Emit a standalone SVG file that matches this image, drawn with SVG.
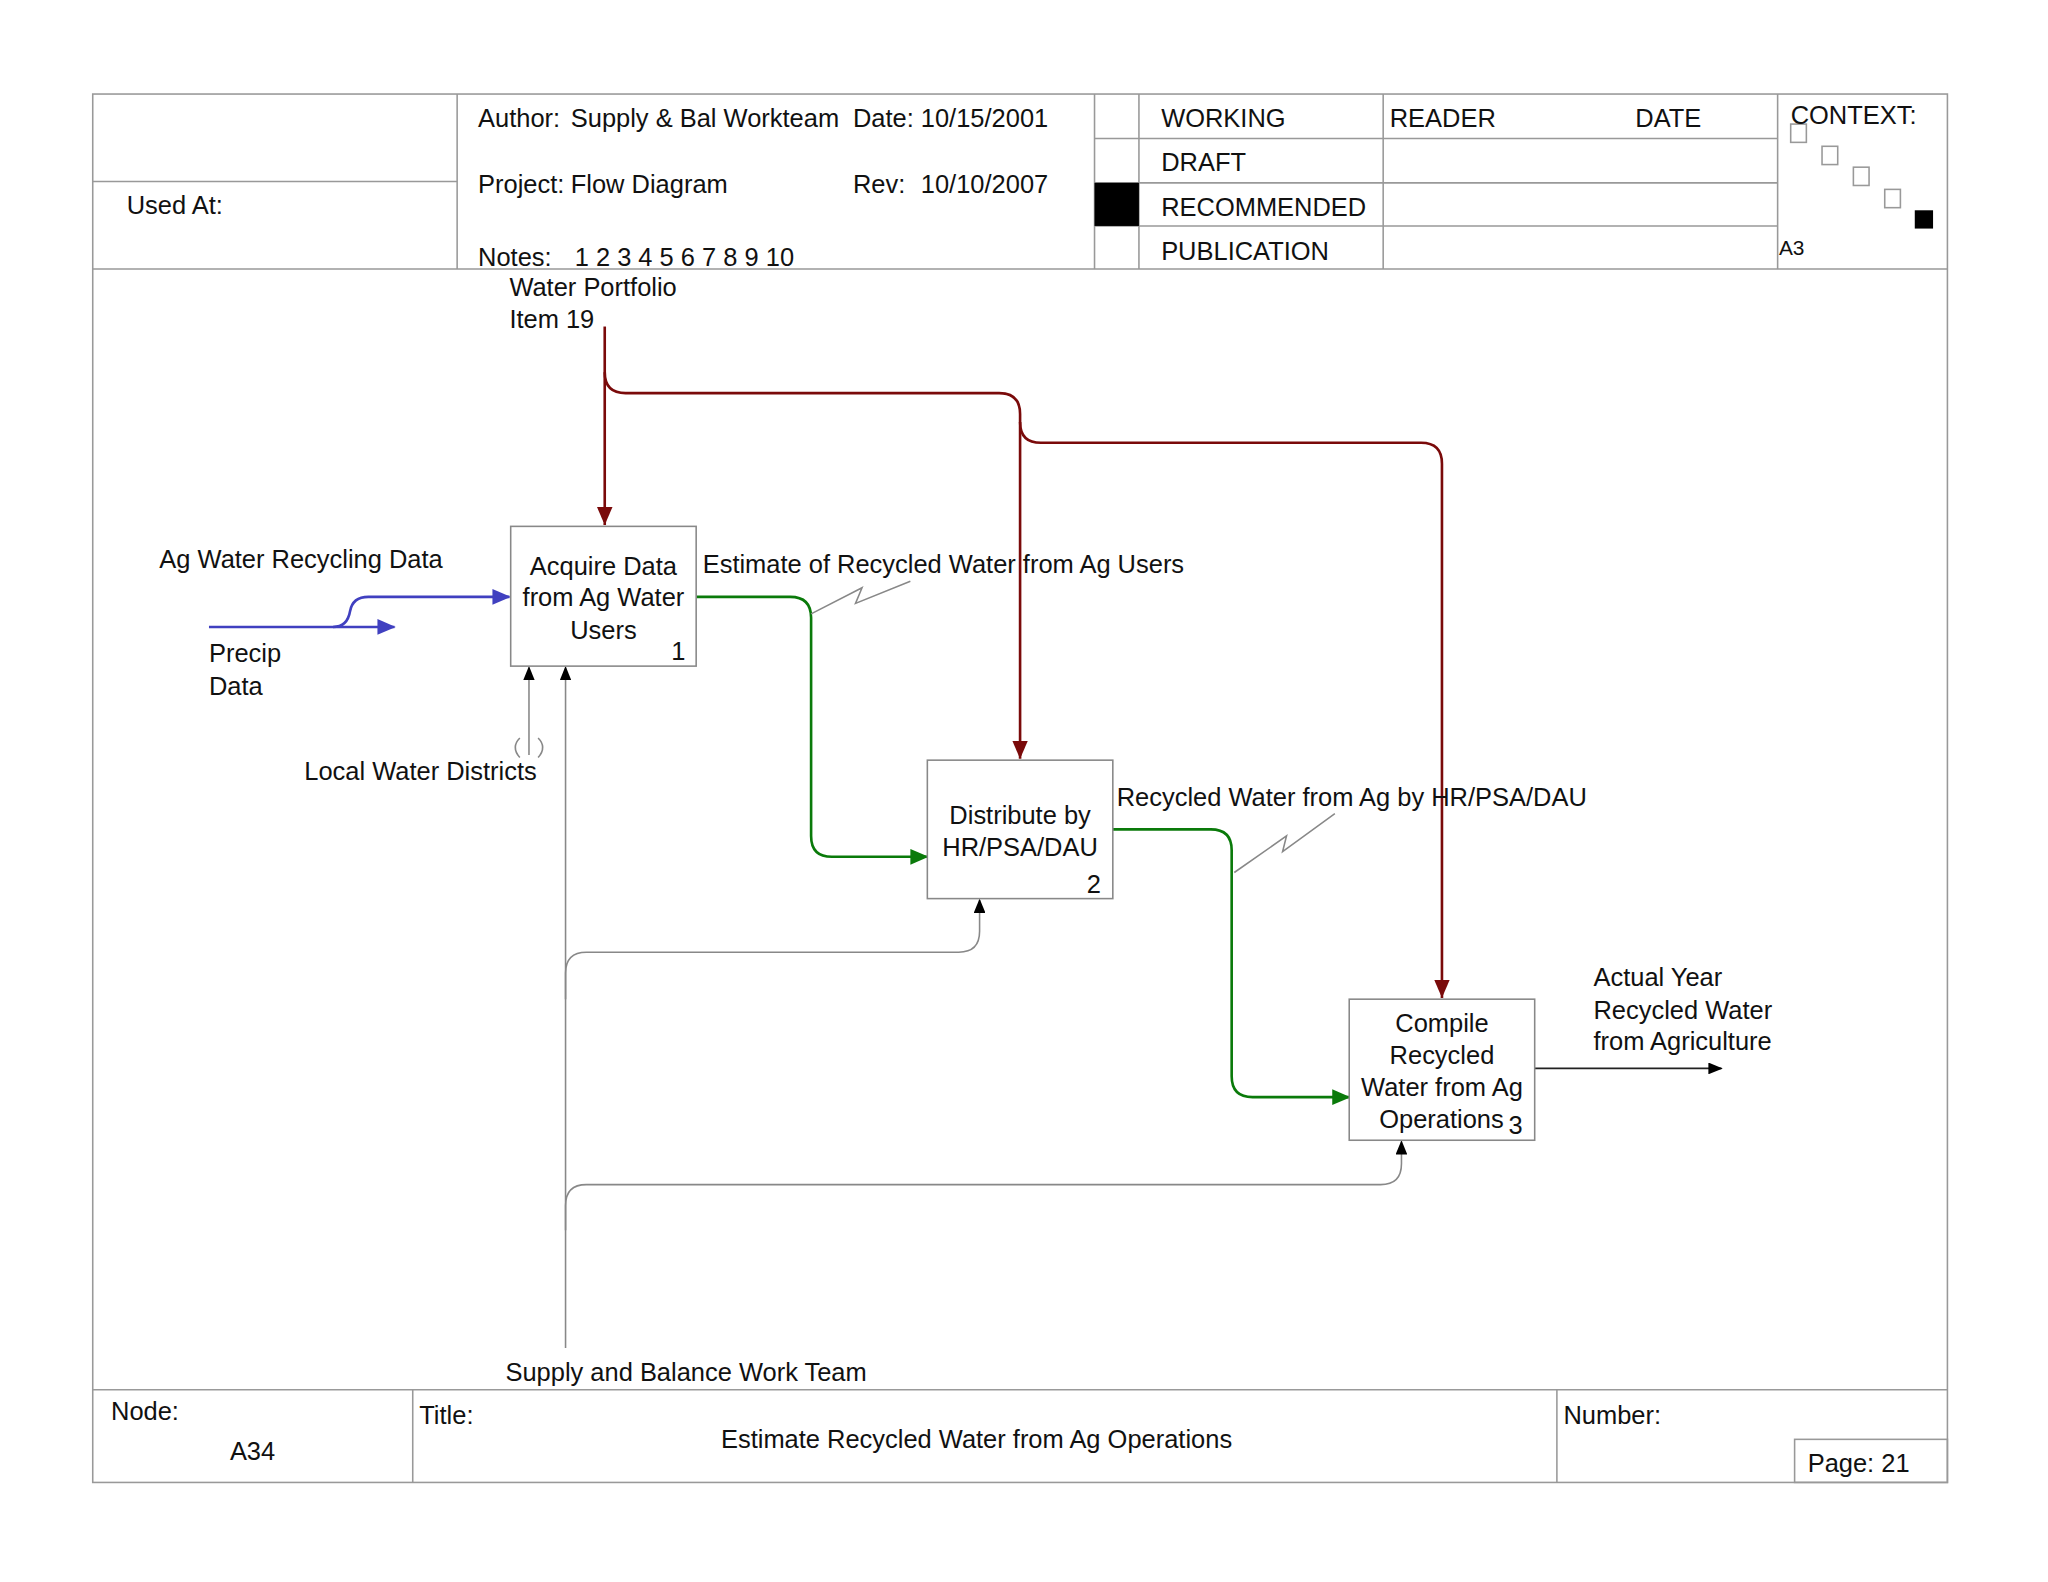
<svg xmlns="http://www.w3.org/2000/svg" width="2048" height="1582" viewBox="0 0 2048 1582">
<style>
text{font-family:"Liberation Sans",Arial,sans-serif;font-size:19.5px;fill:#111}
.fr{fill:none;stroke:#999;stroke-width:1.2}
.box{fill:#fff;stroke:#888;stroke-width:1.2}
.r{fill:none;stroke:#7a0a0a;stroke-width:2}
.b{fill:none;stroke:#4040c0;stroke-width:2}
.g{fill:none;stroke:#0a7a0a;stroke-width:2}
.k{fill:none;stroke:#888;stroke-width:1.2}
.bl{fill:none;stroke:#222;stroke-width:1.2}
</style>
<defs>
<marker id="ar" markerWidth="12" markerHeight="14" refX="14" refY="6" orient="auto" markerUnits="userSpaceOnUse"><path d="M0,0L14,6L0,12z" fill="#7a0a0a"/></marker>
<marker id="ab" markerWidth="14" markerHeight="12" refX="13" refY="6" orient="auto" markerUnits="userSpaceOnUse"><path d="M0,0L14,6L0,12z" fill="#4040c0"/></marker>
<marker id="ag" markerWidth="14" markerHeight="12" refX="13" refY="6" orient="auto" markerUnits="userSpaceOnUse"><path d="M0,0L14,6L0,12z" fill="#0a7a0a"/></marker>
<marker id="ak" markerWidth="11" markerHeight="9" refX="10" refY="4.5" orient="auto" markerUnits="userSpaceOnUse"><path d="M0,0L11,4.5L0,9z" fill="#000"/></marker>
</defs>
<rect width="2048" height="1582" fill="#fff"/>
<g transform="scale(1.30612)">
<g id="frame">
<rect class="fr" x="71" y="72" width="1420" height="1063"/>
<line class="fr" x1="71" y1="206" x2="1491" y2="206"/>
<line class="fr" x1="71" y1="139" x2="350" y2="139"/>
<line class="fr" x1="350" y1="72" x2="350" y2="206"/>
<line class="fr" x1="838" y1="72" x2="838" y2="206"/>
<line class="fr" x1="872" y1="72" x2="872" y2="206"/>
<line class="fr" x1="1059" y1="72" x2="1059" y2="206"/>
<line class="fr" x1="1361" y1="72" x2="1361" y2="206"/>
<line class="fr" x1="838" y1="106" x2="1361" y2="106"/>
<line class="fr" x1="838" y1="140" x2="1361" y2="140"/>
<line class="fr" x1="838" y1="173" x2="1361" y2="173"/>
<rect x="838" y="140" width="34" height="33" fill="#000"/>
<rect class="fr" x="1371" y="95" width="12" height="14"/>
<rect class="fr" x="1395" y="112" width="12" height="14"/>
<rect class="fr" x="1419" y="128" width="12" height="14"/>
<rect class="fr" x="1443" y="145" width="12" height="14"/>
<rect x="1466" y="161" width="14" height="14" fill="#000"/>
<text x="97" y="164">Used At:</text>
<text x="366" y="97">Author:</text><text x="437" y="97">Supply &amp; Bal Workteam</text>
<text x="653" y="97">Date: 10/15/2001</text>
<text x="366" y="148">Project:</text><text x="437" y="148">Flow Diagram</text>
<text x="653" y="148">Rev:</text><text x="705" y="148">10/10/2007</text>
<text x="366" y="204">Notes:</text><text x="440" y="204">1 2 3 4 5 6 7 8 9 10</text>
<text x="889" y="97">WORKING</text><text x="889" y="131">DRAFT</text>
<text x="889" y="165">RECOMMENDED</text><text x="889" y="199">PUBLICATION</text>
<text x="1064" y="97">READER</text><text x="1252" y="97">DATE</text>
<text x="1371" y="95">CONTEXT:</text>
<text x="1362" y="195" style="font-size:16px">A3</text>
<line class="fr" x1="71" y1="1064" x2="1491" y2="1064"/>
<line class="fr" x1="316" y1="1064" x2="316" y2="1135"/>
<line class="fr" x1="1192" y1="1064" x2="1192" y2="1135"/>
<rect class="fr" x="1374" y="1102" width="117" height="33"/>
<text x="85" y="1087">Node:</text><text x="176" y="1118">A34</text>
<text x="321" y="1090">Title:</text>
<text x="552" y="1109">Estimate Recycled Water from Ag Operations</text>
<text x="1197" y="1090">Number:</text>
<text x="1384" y="1127">Page:  21</text>
</g>
<g id="connectors">
<path class="r" d="M463,250V402" marker-end="url(#ar)"/>
<path class="r" d="M463,285Q463,301 479,301H765Q781,301 781,317V581" marker-end="url(#ar)"/>
<path class="r" d="M781,323Q781,339 797,339H1088Q1104,339 1104,355V764" marker-end="url(#ar)"/>
<path class="b" d="M160,480H302" marker-end="url(#ab)"/>
<path class="b" d="M255,480Q266,480 268,468Q270,457 282,457H390" marker-end="url(#ab)"/>
<path class="g" d="M533,457H605Q621,457 621,473V640Q621,656 637,656H710" marker-end="url(#ag)"/>
<path class="g" d="M852,635H927Q943,635 943,651V824Q943,840 959,840H1033" marker-end="url(#ag)"/>
<path class="bl" d="M1175,818H1318" marker-end="url(#ak)"/>
<path class="k" d="M433,1032V511" marker-end="url(#ak)"/>
<path class="k" d="M405,578V511" marker-end="url(#ak)"/>
<path class="k" d="M398,565Q391,572 398,580M412,565Q419,572 412,580"/>
<path class="k" d="M433,765V745Q433,729 449,729H734Q750,729 750,713V689" marker-end="url(#ak)"/>
<path class="k" d="M433,942V923Q433,907 449,907H1057Q1073,907 1073,891V874" marker-end="url(#ak)"/>
<path class="k" d="M621,470L660,450L655,462L697,445"/>
<path class="k" d="M945,668L985,640L982,652L1022,623"/>
</g>
<g id="n1"><rect class="box" x="391" y="403" width="142" height="107"/>
<text x="462" y="440" text-anchor="middle">Acquire Data</text><text x="462" y="464" text-anchor="middle">from Ag Water</text><text x="462" y="489" text-anchor="middle">Users</text><text x="514" y="505">1</text></g>
<g id="n2"><rect class="box" x="710" y="582" width="142" height="106"/>
<text x="781" y="631" text-anchor="middle">Distribute by</text><text x="781" y="655" text-anchor="middle">HR/PSA/DAU</text><text x="832" y="684">2</text></g>
<g id="n3"><rect class="box" x="1033" y="765" width="142" height="108"/>
<text x="1104" y="790" text-anchor="middle">Compile</text><text x="1104" y="815" text-anchor="middle">Recycled</text><text x="1104" y="839" text-anchor="middle">Water from Ag</text><text x="1056" y="864">Operations</text><text x="1155" y="868">3</text></g>
<g id="labels">
<text x="390" y="227">Water Portfolio</text><text x="390" y="251">Item 19</text>
<text x="122" y="435">Ag Water Recycling Data</text>
<text x="160" y="507">Precip</text><text x="160" y="532">Data</text>
<text x="233" y="597">Local Water Districts</text>
<text x="538" y="439">Estimate of Recycled Water from Ag Users</text>
<text x="855" y="617">Recycled Water from Ag by HR/PSA/DAU</text>
<text x="1220" y="755">Actual Year</text><text x="1220" y="780">Recycled Water</text><text x="1220" y="804">from Agriculture</text>
<text x="387" y="1057">Supply and Balance Work Team</text>
</g>
</g>
</svg>
